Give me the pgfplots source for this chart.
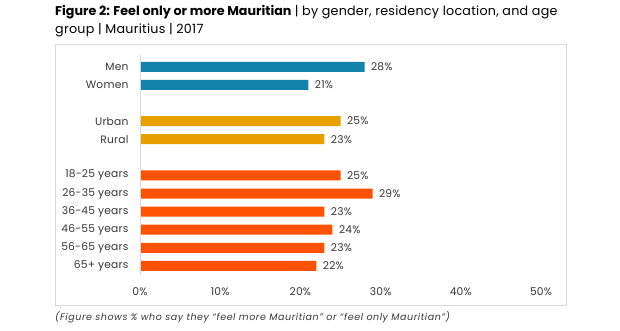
\documentclass[border=0pt]{standalone}
\usepackage{fontspec}
\setmainfont{Poppins}
\usepackage{pgfplots}
\pgfplotsset{compat=1.18}
\definecolor{cblue}{RGB}{18,131,171}
\definecolor{cgold}{RGB}{232,160,0}
\definecolor{cred}{RGB}{255,82,0}
\definecolor{ctext}{RGB}{55,55,55}
\definecolor{cframe}{RGB}{217,217,217}
\newcommand{\lbl}{\fontsize{10.7}{12}\selectfont\addfontfeature{LetterSpace=2}}
\begin{document}
\begin{tikzpicture}
\path[use as bounding box] (0pt,0pt) rectangle (620pt,330pt);
\draw[cframe, line width=0.8pt] (55pt,286pt) rectangle (566pt,25pt);
\node[anchor=north west, inner sep=0pt, align=left, font=\fontsize{12.7}{17.5}\selectfont, text=black] at (55pt,324.5pt)
  {\textbf{Figure 2: Feel only or more Mauritian}\ {\addfontfeature{LetterSpace=2}| by gender, residency location, and age}\\{\addfontfeature{LetterSpace=2}group | Mauritius | 2017}};
\node[anchor=west, inner sep=0pt, font=\fontsize{9.5}{10}\selectfont\itshape\addfontfeature{LetterSpace=6}, text=ctext] at (55pt,13pt)
  {(Figure shows \% who say they “feel more Mauritian” or “feel only Mauritian”)};
\begin{axis}[
  at={(140pt,55pt)}, anchor=south west,
  scale only axis, width=401pt, height=220pt,
  xmin=0, xmax=50, ymin=-11.5, ymax=0.65,
  xbar, bar width=10pt, bar shift=0pt,
  axis line style={draw=none},
  axis y line*=left, axis x line=none,
  xtick=\empty,
  ytick={0,-1,-3,-4,-6,-7,-8,-9,-10,-11},
  yticklabels={Men,Women,Urban,Rural,18-25 years,26-35 years,36-45 years,46-55 years,56-65 years,65+ years},
  major tick length=0pt,
  yticklabel style={font=\lbl, text=ctext, xshift=-8pt},
  /pgf/number format/assume math mode=true,
  nodes near coords={\pgfmathprintnumber{\pgfplotspointmeta}\%},
  nodes near coords style={font=\lbl, text=ctext, anchor=west, xshift=3pt},
  clip=false,
]
\addplot[fill=cblue, draw=none] coordinates {(28,0) (21,-1)};
\addplot[fill=cgold, draw=none] coordinates {(25,-3) (23,-4)};
\addplot[fill=cred, draw=none] coordinates {(25,-6) (29,-7) (23,-8) (24,-9) (23,-10) (22,-11)};
\draw[cframe, line width=0.8pt] (axis cs:0,0.65) -- (axis cs:0,-11.5);
\foreach \v in {0,10,20,30,40,50}{
  \edef\tmp{\noexpand\node[font=\noexpand\lbl, text=ctext] at (axis cs:\v,-11.5) [yshift=-17pt] {\v\noexpand\%};}
  \tmp
}
\end{axis}
\end{tikzpicture}
\end{document}
